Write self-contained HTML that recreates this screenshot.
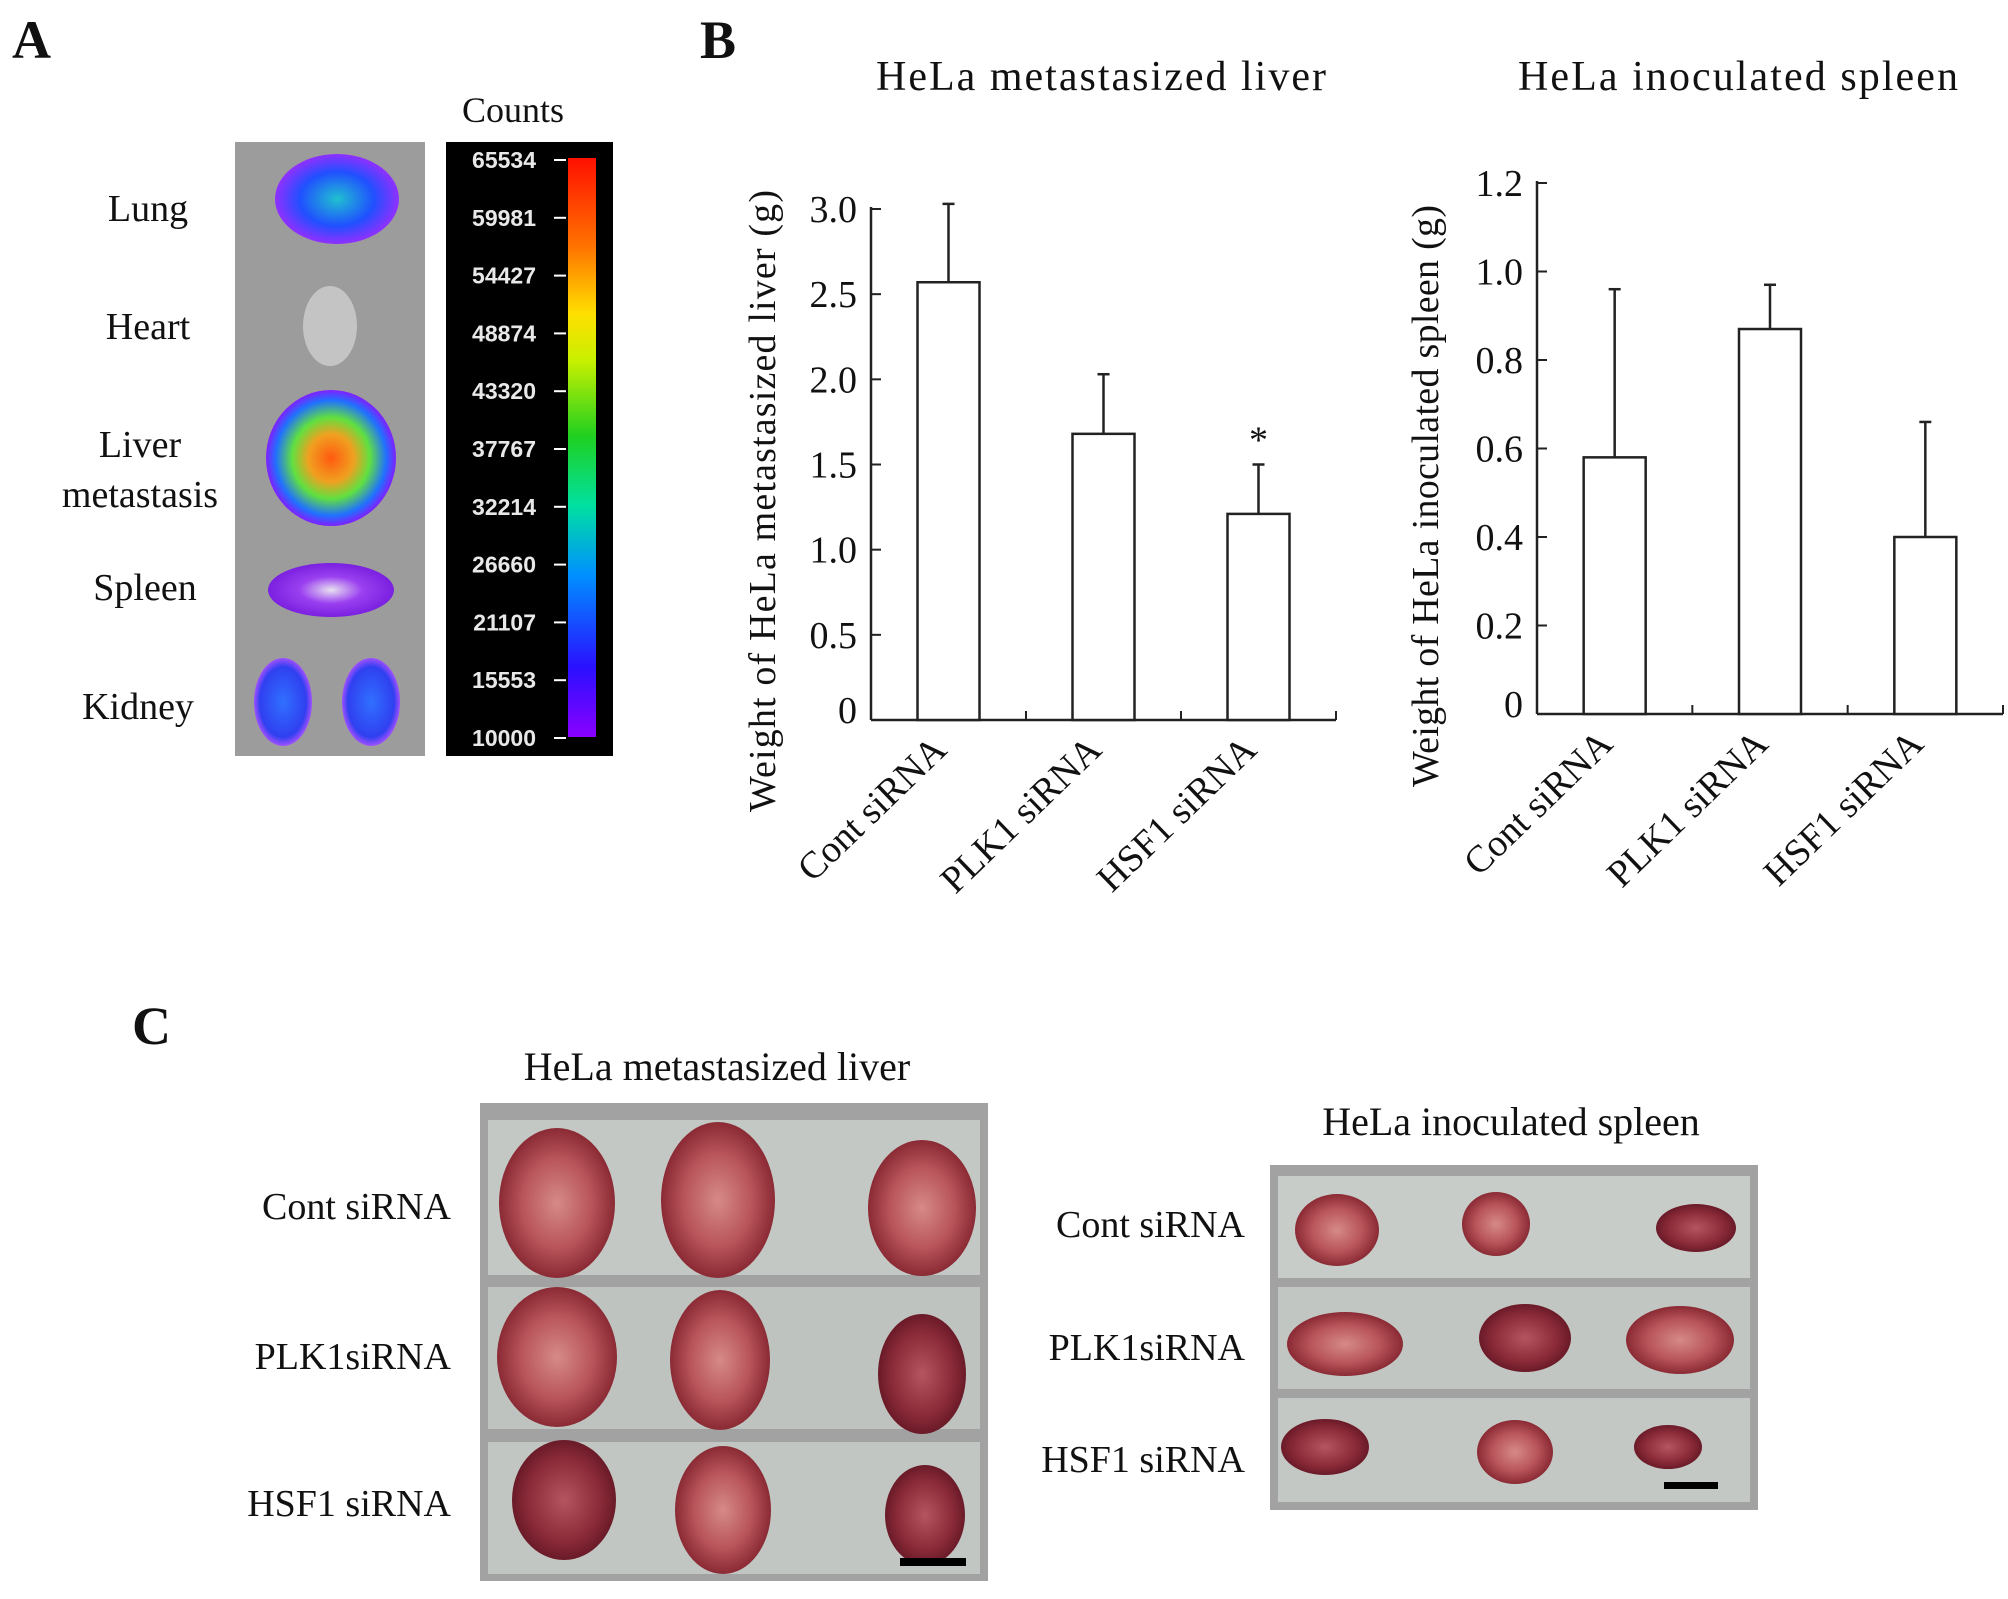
<!DOCTYPE html>
<html><head><meta charset="utf-8"><style>
html,body{margin:0;padding:0;background:#fff}
svg{display:block}
text{font-family:"Liberation Serif",serif;fill:#111}
#cbarTicks text{fill:#e8e8e8;font-family:"Liberation Sans",sans-serif;font-weight:bold}
</style></head><body>
<svg id="fig" width="2008" height="1599" viewBox="0 0 2008 1599" xmlns="http://www.w3.org/2000/svg">
<defs>
<linearGradient id="cbar" x1="0" y1="1" x2="0" y2="0">
<stop offset="0" stop-color="#8a00ff"/><stop offset="0.12" stop-color="#2a10ff"/><stop offset="0.28" stop-color="#0090ff"/><stop offset="0.4" stop-color="#00e0a0"/><stop offset="0.52" stop-color="#20d020"/><stop offset="0.65" stop-color="#c8f000"/><stop offset="0.73" stop-color="#ffe000"/><stop offset="0.85" stop-color="#ff7000"/><stop offset="1" stop-color="#ff1000"/>
</linearGradient>
<radialGradient id="liverRad"><stop offset="0" stop-color="#ff5a10"/><stop offset="0.35" stop-color="#f0a020"/><stop offset="0.6" stop-color="#60e040"/><stop offset="0.85" stop-color="#2070ff"/><stop offset="1" stop-color="#8020ff"/></radialGradient>
<radialGradient id="blueRad"><stop offset="0" stop-color="#20c0d0"/><stop offset="0.6" stop-color="#2050ff"/><stop offset="1" stop-color="#9030ff"/></radialGradient>
<radialGradient id="kidRad"><stop offset="0" stop-color="#3070ff"/><stop offset="0.8" stop-color="#3040f0"/><stop offset="1" stop-color="#a050ff"/></radialGradient>
<radialGradient id="spleenRad"><stop offset="0" stop-color="#e8e0f0"/><stop offset="0.5" stop-color="#9a40f0"/><stop offset="1" stop-color="#7a20e0"/></radialGradient>
<radialGradient id="organ"><stop offset="0" stop-color="#d68a88"/><stop offset="0.6" stop-color="#b8545a"/><stop offset="1" stop-color="#8a2a34"/></radialGradient>
<radialGradient id="organDark"><stop offset="0" stop-color="#b55560"/><stop offset="0.7" stop-color="#8a2a38"/><stop offset="1" stop-color="#6a1a28"/></radialGradient>
</defs>

<!-- Panel A -->
<text x="12" y="58" font-size="54" font-weight="bold">A</text>
<text x="513" y="122" font-size="36" text-anchor="middle">Counts</text>
<g font-size="38" text-anchor="middle">
<text x="148" y="221">Lung</text>
<text x="148" y="339">Heart</text>
<text x="140" y="457">Liver</text>
<text x="140" y="507">metastasis</text>
<text x="145" y="600">Spleen</text>
<text x="138" y="719">Kidney</text>
</g>
<g>
<rect x="235" y="142" width="190" height="614" fill="#9c9c9c"/>
<ellipse cx="337" cy="199" rx="62" ry="45" fill="url(#blueRad)"/>
<ellipse cx="330" cy="326" rx="27" ry="40" fill="#c4c4c4"/>
<ellipse cx="331" cy="458" rx="65" ry="68" fill="url(#liverRad)"/>
<ellipse cx="331" cy="590" rx="63" ry="27" fill="url(#spleenRad)"/>
<ellipse cx="283" cy="702" rx="29" ry="44" fill="url(#kidRad)"/>
<ellipse cx="371" cy="702" rx="29" ry="44" fill="url(#kidRad)"/>
</g>
<g>
<rect x="446" y="142" width="167" height="614" fill="#000"/>
<rect x="568" y="158" width="28" height="579" fill="url(#cbar)"/>
<g id="cbarTicks" font-size="23"></g>
</g>

<!-- Panel B -->
<text x="700" y="58" font-size="54" font-weight="bold">B</text>
<text x="1101" y="90" font-size="42" text-anchor="middle" textLength="450">HeLa metastasized liver</text>
<text x="1738" y="90" font-size="42" text-anchor="middle" textLength="440">HeLa inoculated spleen</text>
<g id="chartL"></g>
<g id="chartR"></g>

<!-- Panel C -->
<text x="132" y="1044" font-size="54" font-weight="bold">C</text>
<text x="717" y="1080" font-size="40" text-anchor="middle">HeLa metastasized liver</text>
<text x="1511" y="1135" font-size="40" text-anchor="middle">HeLa inoculated spleen</text>
<g font-size="38" text-anchor="end">
<text x="451" y="1219">Cont siRNA</text>
<text x="451" y="1369">PLK1siRNA</text>
<text x="451" y="1516">HSF1 siRNA</text>
</g>
<g font-size="38" text-anchor="end">
<text x="1245" y="1237">Cont siRNA</text>
<text x="1245" y="1360">PLK1siRNA</text>
<text x="1245" y="1472">HSF1 siRNA</text>
</g>
<g>
<rect x="480" y="1103" width="508" height="478" fill="#a2a2a2"/>
<rect x="488" y="1120" width="492" height="155" fill="#c4c8c4"/>
<rect x="488" y="1287" width="492" height="142" fill="#bfc3bf"/>
<rect x="488" y="1442" width="492" height="132" fill="#c2c6c2"/>
<ellipse cx="557" cy="1203" rx="58" ry="75" fill="url(#organ)"/>
<ellipse cx="718" cy="1200" rx="57" ry="78" fill="url(#organ)"/>
<ellipse cx="922" cy="1208" rx="54" ry="68" fill="url(#organ)"/>
<ellipse cx="557" cy="1357" rx="60" ry="70" fill="url(#organ)"/>
<ellipse cx="720" cy="1360" rx="50" ry="70" fill="url(#organ)"/>
<ellipse cx="922" cy="1374" rx="44" ry="60" fill="url(#organDark)"/>
<ellipse cx="564" cy="1500" rx="52" ry="60" fill="url(#organDark)"/>
<ellipse cx="723" cy="1510" rx="48" ry="64" fill="url(#organ)"/>
<ellipse cx="925" cy="1515" rx="40" ry="50" fill="url(#organDark)"/>
<rect x="900" y="1558" width="66" height="8" fill="#000"/>
</g>
<g>
<rect x="1270" y="1165" width="488" height="345" fill="#a2a2a2"/>
<rect x="1278" y="1176" width="472" height="102" fill="#c8ccc8"/>
<rect x="1278" y="1287" width="472" height="102" fill="#c2c6c2"/>
<rect x="1278" y="1398" width="472" height="104" fill="#c4c8c4"/>
<ellipse cx="1337" cy="1230" rx="42" ry="36" fill="url(#organ)"/>
<ellipse cx="1496" cy="1224" rx="34" ry="32" fill="url(#organ)"/>
<ellipse cx="1696" cy="1228" rx="40" ry="24" fill="url(#organDark)"/>
<ellipse cx="1345" cy="1344" rx="58" ry="32" fill="url(#organ)"/>
<ellipse cx="1525" cy="1338" rx="46" ry="34" fill="url(#organDark)"/>
<ellipse cx="1680" cy="1340" rx="54" ry="34" fill="url(#organ)"/>
<ellipse cx="1325" cy="1447" rx="44" ry="28" fill="url(#organDark)"/>
<ellipse cx="1515" cy="1452" rx="38" ry="32" fill="url(#organ)"/>
<ellipse cx="1668" cy="1447" rx="34" ry="22" fill="url(#organDark)"/>
<rect x="1664" y="1482" width="54" height="7" fill="#000"/>
</g>
</svg>
<script>
const NS = "http://www.w3.org/2000/svg";
const cbarLabels = ["65534","59981","54427","48874","43320","37767","32214","26660","21107","15553","10000"];
const categories = ["Cont siRNA","PLK1 siRNA","HSF1 siRNA"];
const liverMeans = [2.57, 1.68, 1.21];
const liverErrors = [0.46, 0.35, 0.29];
const liverTicks = ["0","0.5","1.0","1.5","2.0","2.5","3.0"];
const liverSig = ["", "", "*"];
const spleenMeans = [0.58, 0.87, 0.40];
const spleenErrors = [0.38, 0.10, 0.26];
const spleenTicks = ["0","0.2","0.4","0.6","0.8","1.0","1.2"];
const spleenSig = ["", "", ""];

function mk(tag, attrs, parent) {
  const e = document.createElementNS(NS, tag);
  for (const k in attrs) e.setAttribute(k, attrs[k]);
  parent.appendChild(e);
  return e;
}

(function(){
  const g = document.getElementById('cbarTicks');
  const top = 160, bot = 738;
  cbarLabels.forEach((lab, i) => {
    const y = top + (bot - top) * i / (cbarLabels.length - 1);
    const t = mk('text', {x: 536, y: y + 8, 'text-anchor': 'end'}, g);
    t.textContent = lab;
    
    
    const l = mk('line', {x1: 554, x2: 566, y1: y, y2: y, stroke: '#fff', 'stroke-width': 2}, g);
    
    
  });
})();

function drawChart(gid, cfg, means, errs, ticks, sig) {
  const g = document.getElementById(gid);
  const {x0, x1, yTop, yBot, vmax, title, tx, ty, tlen} = cfg;
  const band = (x1 - x0) / categories.length;
  const barW = 62;
  const yS = v => yBot - (v / vmax) * (yBot - yTop);
  const xC = i => x0 + band * (i + 0.5);
  const ya = mk('line', {x1: x0, x2: x0, y1: yTop - 2, y2: yBot, stroke: '#222', 'stroke-width': 2.5}, g);
  
  
  const xa = mk('line', {x1: x0, x2: x1, y1: yBot, y2: yBot, stroke: '#222', 'stroke-width': 2.5}, g);
  
  
  ticks.forEach((lab, i) => {
    const v = vmax * i / (ticks.length - 1);
    const y = yS(v);
    if (i > 0) {
      const tl = mk('line', {x1: x0, x2: x0 + 10, y1: y, y2: y, stroke: '#222', 'stroke-width': 2}, g);
      
      
    }
    const t = mk('text', {x: x0 - 14, y: y + 13 - (i === 0 ? 10 : 0), 'text-anchor': 'end', 'font-size': 38}, g);
    t.textContent = lab;
    
    
  });
  for (let i = 1; i <= categories.length; i++) {
    const x = x0 + band * i;
    const tl = mk('line', {x1: x, x2: x, y1: yBot, y2: yBot - 9, stroke: '#222', 'stroke-width': 2}, g);
    
    
  }
  categories.forEach((c, i) => {
    const cx = xC(i);
    const yt = yS(means[i]);
    const ye = yS(means[i] + errs[i]);
    const el = mk('line', {x1: cx, x2: cx, y1: ye, y2: yt, stroke: '#222', 'stroke-width': 2.5}, g);
    
    
    const cap = mk('line', {x1: cx - 6, x2: cx + 6, y1: ye, y2: ye, stroke: '#222', 'stroke-width': 2.5}, g);
    
    
    const r = mk('rect', {x: cx - barW / 2, y: yt, width: barW, height: yBot - yt, fill: '#fff', stroke: '#222', 'stroke-width': 2.5}, g);
    
    
    if (sig[i]) {
      const s = mk('text', {x: cx, y: ye - 12, 'text-anchor': 'middle', 'font-size': 38}, g);
      s.textContent = sig[i];
      
      
    }
    const lab = mk('text', {x: cx, y: yBot + 32, 'text-anchor': 'end', 'font-size': 38, transform: `rotate(-44 ${cx} ${yBot + 32})`}, g);
    lab.textContent = c;
    
    
  });
  const at = mk('text', {x: tx, y: ty, 'text-anchor': 'middle', 'font-size': 38, textLength: tlen, transform: `rotate(-90 ${tx} ${ty})`}, g);
  at.textContent = title;
  
  
}

drawChart('chartL', {x0: 871, x1: 1336, yTop: 209, yBot: 720, vmax: 3.0, title: 'Weight of HeLa metastasized liver (g)', tx: 775, ty: 501, tlen: 622}, liverMeans, liverErrors, liverTicks, liverSig);
drawChart('chartR', {x0: 1537, x1: 2003, yTop: 183, yBot: 714, vmax: 1.2, title: 'Weight of HeLa inoculated spleen (g)', tx: 1438, ty: 496, tlen: 582}, spleenMeans, spleenErrors, spleenTicks, spleenSig);
</script>
</body></html>
